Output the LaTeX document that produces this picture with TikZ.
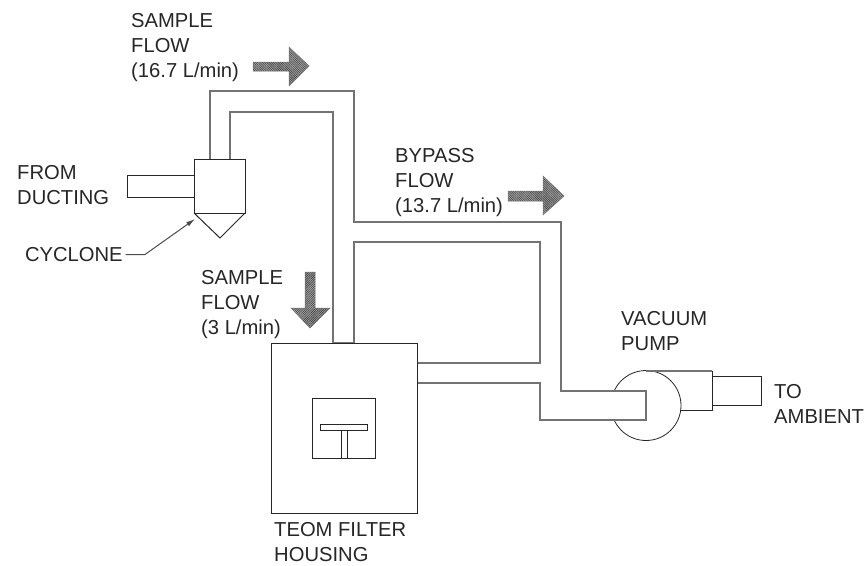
\documentclass[tikz,border=0pt]{standalone}
\usepackage{fontspec}
\setmainfont{Liberation Sans}
\usetikzlibrary{patterns.meta,arrows.meta}
\tikzset{
    pipe/.style={draw=black!55,line width=1.2pt,line join=miter},
    part/.style={draw=black!85,line width=1pt},
    label/.style={align=left,anchor=west,inner sep=0pt,font=\fontsize{20.2}{25}\selectfont,text=black!85},
    flowarrow/.style={draw=black!55,line width=0.5pt,preaction={fill=black!35},pattern={Lines[angle=#1,distance=1.6pt,line width=0.6pt]},pattern color=black!75}
}

\begin{document}
\begin{tikzpicture}[x=1pt,y=-1pt]
    \useasboundingbox (0,0) rectangle (867,565);
    % vacuum pump
    \node[circle,draw=black!85,line width=0.8pt,minimum size=70pt,inner sep=0pt] (pumpbody) at (646,405.5) {};
    \fill[white] (610,391) rectangle (646,420);
    \draw[pipe] (646,371) -- (712,371);
    \draw[part] (712,371) -- (712,410) -- (681,410);
    \draw[part] (712,376) -- (761,376) -- (761,405) -- (712,405);
    % pipes
    \draw[pipe] (210,159) -- (210,91) -- (354,91) -- (354,222) -- (561,222) -- (561,391) -- (646,391) -- (646,420) -- (540,420) -- (540,383) -- (417,383);
    \draw[pipe] (230,159) -- (230,112) -- (333,112) -- (333,343) -- (354,343) -- (354,242) -- (540,242) -- (540,363) -- (417,363);
    % cyclone
    \draw[part] (127,175) rectangle (194,197);
    \draw[part] (194,159) rectangle (245,213);
    \draw[part] (194,213) -- (220,238) -- (245,213);
    % filter housing
    \draw[part] (271,343) rectangle (417,513);
    \draw[part] (312,398) rectangle (375,458);
    \draw[part] (320,424) rectangle (367,430);
    \draw[part] (341,430) -- (341,458);
    \draw[part] (347,430) -- (347,458);
    % flow arrows
    \draw[flowarrow=-45] (253,62) -- (289,62) -- (289,47) -- (309,66) -- (289,86) -- (289,71) -- (253,71) -- cycle;
    \draw[flowarrow=-45] (508,191) -- (543,191) -- (543,176) -- (564,196) -- (543,215) -- (543,201) -- (508,201) -- cycle;
    \draw[flowarrow=45] (305,272) -- (315,272) -- (315,308) -- (330,308) -- (310,328) -- (291,308) -- (305,308) -- cycle;
    % labels
    \node[label] (sampleflow) at (131,48) {SAMPLE\\FLOW\\(16.7 L/min)};
    \node[label] (ducting) at (17,185) {FROM\\DUCTING};
    \node[label,outer sep=3pt] (cyclone) at (22,254.5) {CYCLONE};
    \node[label] (filterflow) at (201,305) {SAMPLE\\FLOW\\(3 L/min)};
    \node[label] (bypass) at (395,183) {BYPASS\\FLOW\\(13.7 L/min)};
    \node[label] (pump) at (621,331) {VACUUM\\PUMP};
    \node[label] (ambient) at (774,404) {TO\\AMBIENT};
    \node[label] (housing) at (274,542) {TEOM FILTER\\HOUSING};
    % leader
    \coordinate (bend) at (145,254.5);
    \coordinate (cone) at (195,219);
    \draw[draw=black!70,line width=1pt,-{Latex[length=9pt,width=5pt]}] (cyclone) -- (bend) -- (cone);
\end{tikzpicture}
\end{document}
